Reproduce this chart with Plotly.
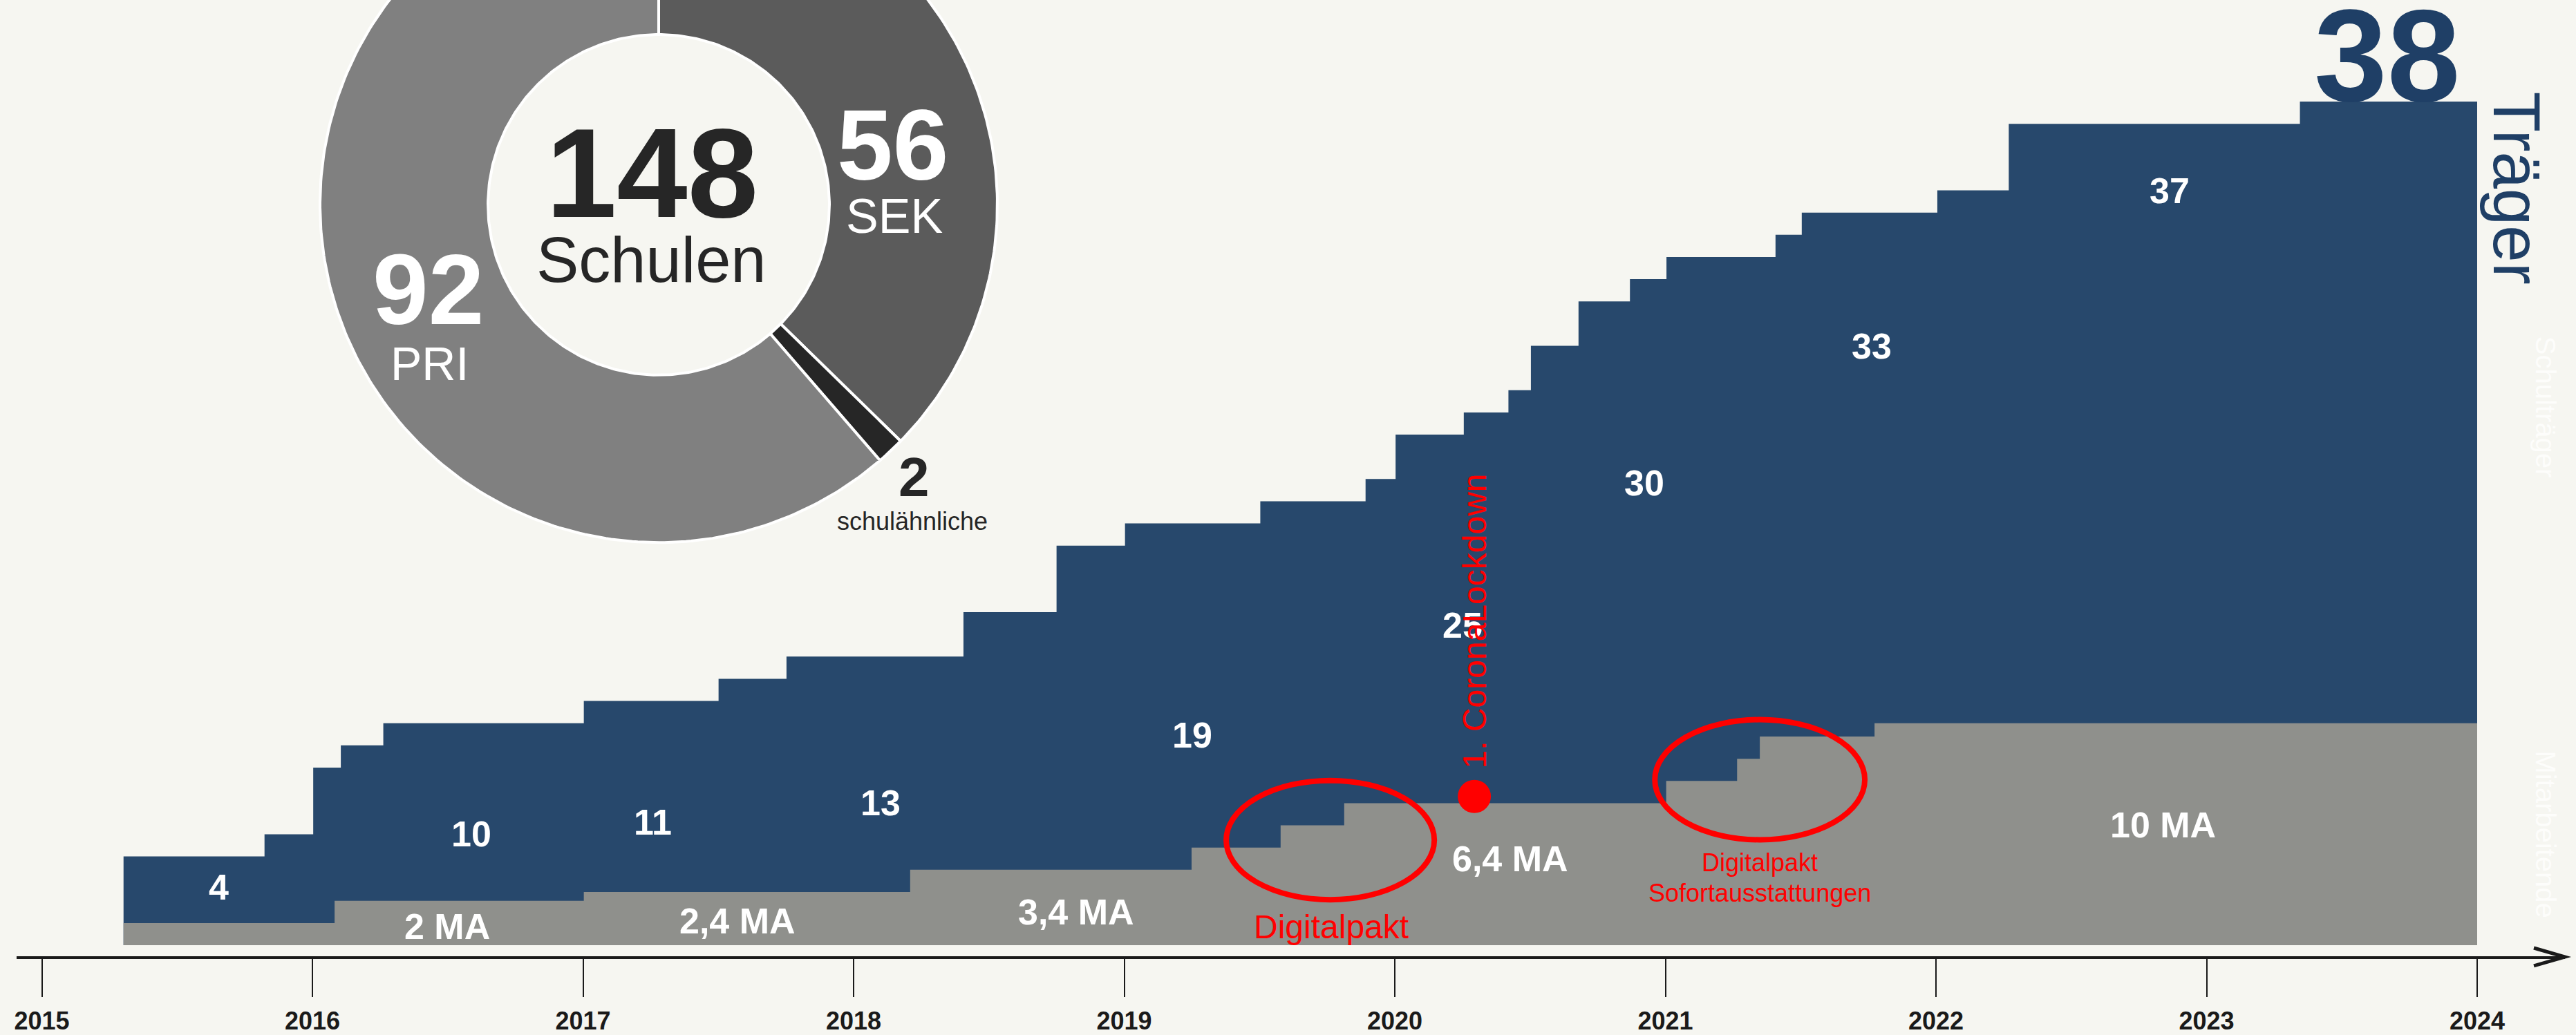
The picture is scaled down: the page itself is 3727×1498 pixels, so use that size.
import numpy as np
import plotly.graph_objects as go

# ---------------- data ----------------
years = list(range(2015, 2025))
year_labels = [str(y) for y in years]

# Schulträger (stepwise count)
traeger_x = [2015.302, 2015.823, 2016.003, 2016.105, 2016.262, 2017.003, 2017.501,
             2017.752, 2018.406, 2018.750, 2019.003, 2019.503, 2019.892, 2020.003,
             2020.255, 2020.420, 2020.503, 2020.679, 2020.869, 2021.004, 2021.407,
             2021.504, 2022.005, 2022.269, 2023.345, 2024.000]
traeger_y = [4, 5, 8, 9, 10, 11, 12, 13, 15, 18, 19, 20, 21, 23, 24, 25, 27, 29,
             30, 31, 32, 33, 34, 37, 38, 38]

# Mitarbeitende (stepwise, full-time equivalents)
ma_x = [2015.302, 2016.082, 2017.003, 2018.209, 2019.249, 2019.578, 2019.813,
        2021.003, 2021.265, 2021.349, 2021.773, 2024.000]
ma_y = [1, 2, 2.4, 3.4, 4.4, 5.4, 6.4, 7.4, 8.4, 9.4, 10, 10]

# value labels
traeger_labels = ["4", "10", "11", "13", "19", "25", "30", "33", "37"]
ma_labels = ["2 MA", "2,4 MA", "3,4 MA", "6,4 MA", "10 MA"]

# schools donut (clockwise from 12 o'clock)
school_types = ["SEK", "schulähnliche", "PRI"]
school_counts = [56, 2, 92]
schools_total_label = "148"
traeger_total_label = "38"

lockdown_date = 2020.294

# ---------------- styling / layout constants ----------------
W, H = 3727, 1498
L, R, T, B = 24, 3711, 0, 1387          # plot area in page pixels
BG = "#f6f6f1"
NAVY = "#27486c"
NAVY_TXT = "#1f3f66"
GREY = "#8f908c"
RED = "#ff0000"
DARK = "#262626"
FONT = "Liberation Sans, Arial, sans-serif"

slice_colors = {"SEK": "#5b5b5b", "schulähnliche": "#262626", "PRI": "#808080"}

traeger_label_pos = [(2015.655, 2.61), (2016.588, 5.00), (2017.257, 5.53), (2018.100, 6.40),
                     (2019.252, 9.47), (2020.250, 14.41), (2020.922, 20.81),
                     (2021.763, 26.97), (2022.864, 33.98)]
ma_label_pos = [(2016.498, 0.84), (2017.571, 1.09), (2018.823, 1.49),
                (2020.427, 3.88), (2022.838, 5.43)]


def px(xp):
    return (xp - L) / (R - L)


def py(yp):
    return (B - yp) / (B - T)


fig = go.Figure()

# stepped areas
fig.add_trace(go.Scatter(x=traeger_x, y=traeger_y, mode="lines",
                         line=dict(shape="hv", width=0, color=NAVY),
                         fill="tozeroy", fillcolor=NAVY, hoverinfo="skip"))
fig.add_trace(go.Scatter(x=ma_x, y=ma_y, mode="lines",
                         line=dict(shape="hv", width=0, color=GREY),
                         fill="tozeroy", fillcolor=GREY, hoverinfo="skip"))

# lockdown marker
fig.add_trace(go.Scatter(x=[lockdown_date], y=[6.7], mode="markers",
                         marker=dict(size=48, color=RED), hoverinfo="skip"))

# donut built from the counts (pixel axes x2/y2, clipped at the top)
CX, CY, R_OUT, R_IN = 953, 297, 490, 247
total = sum(school_counts)
cum = 0
for name, val in zip(school_types, school_counts):
    a0 = np.pi / 2 - 2 * np.pi * cum / total
    a1 = np.pi / 2 - 2 * np.pi * (cum + val) / total
    cum += val
    n = max(8, int(400 * val / total))
    th = np.linspace(a0, a1, n)
    xs = np.concatenate([CX + R_OUT * np.cos(th), CX + R_IN * np.cos(th[::-1])])
    ys = np.concatenate([CY - R_OUT * np.sin(th), CY - R_IN * np.sin(th[::-1])])
    xs = np.append(xs, xs[0])
    ys = np.append(ys, ys[0])
    fig.add_trace(go.Scatter(x=xs, y=ys, xaxis="x2", yaxis="y2", mode="lines",
                             fill="toself", fillcolor=slice_colors[name],
                             line=dict(color="white", width=4), hoverinfo="skip"))

annotations = []


def ann(text, x, y, size, color, bold=False, xref="x", yref="y", angle=0):
    annotations.append(dict(text=f"<b>{text}</b>" if bold else text, x=x, y=y,
                            xref=xref, yref=yref, showarrow=False,
                            xanchor="center", yanchor="middle", textangle=angle,
                            font=dict(family=FONT, size=size, color=color)))


for t, (x, y) in zip(traeger_labels, traeger_label_pos):
    ann(t, x, y, 52, "white", bold=True)
for t, (x, y) in zip(ma_labels, ma_label_pos):
    ann(t, x, y, 52, "white", bold=True)

# red annotations
ann("1. CoronaLockdown", 2020.295, 14.60, 48, RED, angle=-90)
ann("Digitalpakt", 2019.765, 0.84, 48, RED)
ann("Digitalpakt", 2021.349, 3.73, 36, RED)
ann("Sofortausstattungen", 2021.349, 2.36, 36, RED)

# donut texts (page pixel positions)
ann(schools_total_label, px(943), py(251), 184, DARK, bold=True, xref="paper", yref="paper")
ann("Schulen", px(942), py(377), 92, DARK, xref="paper", yref="paper")
ann(str(school_counts[0]), px(1291), py(210), 145, "white", bold=True, xref="paper", yref="paper")
ann("SEK", px(1294), py(314), 70, "white", xref="paper", yref="paper")
ann(str(school_counts[2]), px(619), py(420), 145, "white", bold=True, xref="paper", yref="paper")
ann("PRI", px(621), py(527), 68, "white", xref="paper", yref="paper")
ann(str(school_counts[1]), px(1322), py(692), 80, DARK, bold=True, xref="paper", yref="paper")
ann("schulähnliche", px(1320), py(756), 36, DARK, xref="paper", yref="paper")

# right side labels
ann(traeger_total_label, px(3453), py(80), 190, NAVY_TXT, bold=True, xref="paper", yref="paper")
ann("Träger", px(3642), py(272), 96, NAVY_TXT, xref="paper", yref="paper", angle=90)
ann("Schulträger", px(3683), py(590), 40, "#fdfdfb", xref="paper", yref="paper", angle=90)
ann("Mitarbeitende", px(3683), py(1210), 40, "#fdfdfb", xref="paper", yref="paper", angle=90)

shapes = [
    dict(type="circle", xref="x", yref="y", x0=2019.377, x1=2020.146, y0=2.05, y1=7.42,
         line=dict(color=RED, width=8)),
    dict(type="circle", xref="x", yref="y", x0=2020.961, x1=2021.737, y0=4.75, y1=10.16,
         line=dict(color=RED, width=8)),
    dict(type="path", xref="paper", yref="paper",
         path=f"M {px(3666)} {py(1375)} L {px(3711)} {py(1388)} L {px(3666)} {py(1401)}",
         line=dict(color="#1a1a1a", width=5)),
]

fig.update_layout(
    width=W, height=H,
    margin=dict(l=L, r=W - R, t=T, b=H - B, pad=0),
    paper_bgcolor=BG, plot_bgcolor=BG,
    showlegend=False,
    annotations=annotations,
    shapes=shapes,
    xaxis=dict(range=[2015 - (60.5 - L) / 391.5, 2015 + (R - 60.5) / 391.5],
               tickmode="array", tickvals=years,
               ticktext=[f"<b>{t}</b>" for t in year_labels],
               ticks="outside", ticklen=55, tickwidth=2, tickcolor="#1a1a1a",
               showline=True, linewidth=4, linecolor="#1a1a1a",
               showgrid=False, zeroline=False, ticklabelstandoff=4,
               tickfont=dict(family=FONT, size=36, color="#1a1a1a")),
    yaxis=dict(range=[(1371 - B) / 32.2, 1371 / 32.2], visible=False,
               showgrid=False, zeroline=False),
    xaxis2=dict(range=[L, R], overlaying="x", anchor="y2", visible=False),
    yaxis2=dict(range=[B, T], overlaying="y", anchor="x2", visible=False),
)

fig.write_html(
    "out.html",
    config={"displayModeBar": False},
    post_script=(f"document.body.style.margin='0';document.body.style.padding='0';"
                 f"document.body.style.background='{BG}';"
                 f"document.documentElement.style.overflow='hidden';"),
)
